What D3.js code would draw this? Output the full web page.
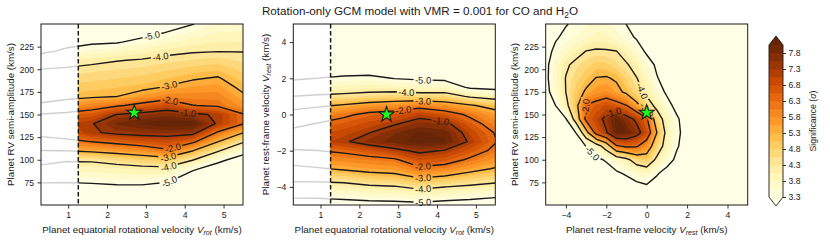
<!DOCTYPE html>
<html>
<head>
<meta charset="utf-8">
<script src="https://cdn.jsdelivr.net/npm/d3@7"></script>
<style>
  body { margin: 0; background: #ffffff; }
  svg { display: block; }
</style>
</head>
<body>
<svg id="chart" width="830" height="242"></svg>
<script>
// ---------------- DATA ----------------
// colour-fill levels (significance, sigma)
const sigmaLevels = [3.3, 3.55, 3.8, 4.05, 4.3, 4.55, 4.8, 5.05, 5.3, 5.55, 5.8, 6.05, 6.3, 6.55, 6.8, 7.05, 7.3, 7.55, 7.8, 8.05];
const colorbarTicks = [3.3, 3.8, 4.3, 4.8, 5.3, 5.8, 6.3, 6.8, 7.3, 7.8];
// contour lines drawn relative to the peak significance
const peakSigma = 8.3;
const contourOffsets = [-5, -4, -3, -2, -1];
const ylorbr = ["#ffffe5", "#fff7bc", "#fee391", "#fec44f", "#fe9929", "#ec7014", "#cc4c02", "#993404", "#662506"];
const vrotCut = 1.26;
const starVrot = 2.7, starVrest = 0, starKp = 152;

// grid coordinates
const vrotGrid = [0.3, 0.95, 1.6, 2.25, 2.9, 3.55, 4.2, 4.85, 5.5];
const kpGrid = [50, 60, 70, 80, 90, 100, 110, 120, 130, 140, 150, 160, 170, 180, 190, 200, 210, 220, 230, 240, 250];
const vrestGrid = [-5, -4.5, -4, -3.5, -3, -2.5, -2, -1.5, -1, -0.5, 0, 0.5, 1, 1.5, 2, 2.5, 3, 3.5, 4, 4.5, 5];
const vrestGridP3 = [-5, -4.5, -4, -3.5, -3, -2.5, -2, -1.5, -1, -0.5, 0, 0.5, 1, 1.5, 2, 2.5, 5];
const kpGridP3 = [50, 70, 85, 100, 115, 130, 145, 160, 175, 190, 205, 220, 235, 250];

// panel 1: significance, rows = Kp (kpGrid), columns = Vrot (vrotGrid)
const sigmaKpVrot = [
  [2.3, 2.3, 2.3, 2.3, 2.3, 2.2, 1.9, 1.7, 1.5],
  [2.7, 2.7, 2.7, 2.75, 2.75, 2.65, 2.25, 2.0, 1.8],
  [3.1, 3.1, 3.15, 3.2, 3.2, 3.05, 2.6, 2.3, 2.1],
  [3.55, 3.51, 3.54, 3.61, 3.65, 3.54, 2.95, 2.65, 2.4],
  [4.05, 3.93, 3.94, 4.0, 4.08, 4.12, 3.4, 2.98, 2.75],
  [4.63, 4.39, 4.41, 4.62, 4.83, 4.97, 4.35, 3.48, 3.0],
  [5.28, 5.31, 5.43, 5.6, 5.8, 6.17, 5.33, 4.39, 3.55],
  [5.99, 6.13, 6.31, 6.52, 6.73, 6.9, 6.46, 5.32, 4.39],
  [6.55, 6.68, 7.2, 7.46, 7.56, 7.59, 7.52, 6.21, 5.32],
  [6.88, 7.0, 7.25, 7.85, 8.1, 8.3, 8.25, 7.2, 6.35],
  [6.35, 6.49, 6.65, 7.32, 7.5, 7.69, 7.46, 7.2, 6.35],
  [5.4, 5.63, 5.97, 6.2, 6.54, 6.86, 6.32, 6.2, 5.7],
  [5.07, 5.13, 5.2, 5.29, 5.63, 5.97, 5.94, 5.95, 5.4],
  [4.81, 4.88, 4.96, 5.04, 5.14, 5.36, 5.59, 5.65, 5.15],
  [4.56, 4.63, 4.71, 4.79, 4.88, 5.04, 5.23, 5.36, 4.93],
  [4.31, 4.39, 4.47, 4.54, 4.62, 4.76, 4.9, 5.01, 4.71],
  [3.71, 3.95, 4.14, 4.27, 4.35, 4.47, 4.57, 4.66, 4.5],
  [3.15, 3.41, 3.62, 3.76, 3.94, 4.14, 4.24, 4.28, 4.28],
  [2.9, 3.1, 3.2, 3.25, 3.48, 3.74, 3.93, 4.06, 4.05],
  [2.7, 2.85, 2.95, 3.0, 3.1, 3.34, 3.61, 3.82, 3.85],
  [2.5, 2.6, 2.7, 2.75, 2.85, 3.05, 3.28, 3.58, 3.65]
];

// panel 2: rows = Vrest (vrestGrid), columns = Vrot (vrotGrid)
const sigmaVrestVrot = [
  [2.9, 2.9, 3.0, 3.05, 3.05, 3.1, 3.0, 3.0, 3.0],
  [3.43, 3.44, 3.5, 3.59, 3.65, 3.77, 3.63, 3.5, 3.37],
  [3.99, 3.97, 4.01, 4.16, 4.24, 4.47, 4.31, 4.17, 4.03],
  [4.54, 4.56, 4.65, 4.9, 4.99, 5.31, 5.13, 4.87, 4.65],
  [5.09, 5.23, 5.4, 5.55, 5.63, 6.13, 5.97, 5.55, 5.24],
  [5.65, 5.77, 5.9, 6.05, 6.19, 6.82, 6.66, 6.18, 5.69],
  [6.22, 6.29, 6.45, 6.72, 7.1, 7.46, 7.25, 6.7, 6.12],
  [6.79, 6.92, 7.2, 7.64, 7.92, 8.2, 8.1, 7.2, 6.35],
  [6.54, 6.73, 6.93, 7.28, 7.76, 8.1, 7.95, 7.0, 6.25],
  [6.07, 6.34, 6.58, 6.88, 7.21, 7.62, 7.49, 6.6, 5.94],
  [5.6, 5.79, 6.15, 6.48, 6.64, 7.06, 6.7, 6.15, 5.58],
  [5.04, 5.19, 5.38, 5.65, 5.8, 5.97, 5.7, 5.38, 5.04],
  [4.31, 4.4, 4.48, 4.6, 4.7, 4.67, 4.7, 4.2, 3.97],
  [3.75, 3.83, 3.9, 3.95, 3.93, 3.76, 3.75, 3.2, 3.1],
  [3.2, 3.31, 3.4, 3.45, 3.28, 3.2, 3.15, 2.9, 2.8],
  [2.8, 2.9, 3.0, 3.0, 2.95, 2.85, 2.8, 2.6, 2.5],
  [2.5, 2.6, 2.7, 2.7, 2.65, 2.55, 2.5, 2.35, 2.25],
  [2.2, 2.3, 2.4, 2.4, 2.35, 2.3, 2.25, 2.1, 2.0],
  [2.0, 2.05, 2.15, 2.15, 2.1, 2.05, 2.0, 1.9, 1.8],
  [1.8, 1.85, 1.9, 1.9, 1.85, 1.85, 1.8, 1.7, 1.6],
  [1.6, 1.65, 1.7, 1.7, 1.65, 1.65, 1.6, 1.5, 1.45]
];

// panel 3: rows = Kp (kpGridP3), columns = Vrest (vrestGridP3)
const sigmaKpVrest = [
  [2.1, 2.15, 2.2, 2.25, 2.3, 2.35, 2.4, 2.5, 2.55, 2.6, 2.6, 2.5, 2.4, 2.3, 2.25, 2.2, 2.0],
  [2.2, 2.3, 2.35, 2.45, 2.55, 2.65, 2.75, 2.85, 2.95, 3.1, 3.2, 3.0, 2.8, 2.65, 2.5, 2.4, 2.1],
  [2.3, 2.4, 2.45, 2.55, 2.7, 2.85, 3.0, 3.2, 3.38, 3.61, 3.77, 3.37, 3.05, 2.85, 2.7, 2.55, 2.15],
  [2.4, 2.5, 2.6, 2.75, 2.95, 3.15, 3.37, 3.73, 4.09, 4.7, 4.9, 4.14, 3.59, 3.15, 2.9, 2.7, 2.2],
  [2.5, 2.65, 2.85, 3.05, 3.31, 3.86, 4.7, 6.18, 6.44, 6.39, 5.8, 4.77, 3.96, 3.36, 3.0, 2.75, 2.2],
  [2.6, 2.8, 3.0, 3.31, 4.97, 6.61, 7.24, 8.1, 8.05, 7.58, 6.87, 5.31, 4.05, 3.43, 3.05, 2.8, 2.2],
  [2.75, 2.95, 3.26, 4.7, 6.5, 7.0, 7.5, 8.15, 7.61, 7.16, 6.44, 4.8, 3.89, 3.38, 3.0, 2.75, 2.2],
  [2.95, 3.31, 4.07, 5.08, 6.35, 6.6, 6.85, 6.63, 6.31, 5.53, 4.74, 4.05, 3.51, 3.1, 2.85, 2.65, 2.15],
  [3.1, 3.63, 4.31, 4.93, 5.41, 5.68, 5.84, 5.52, 5.14, 4.62, 4.1, 3.6, 3.2, 2.95, 2.75, 2.55, 2.1],
  [3.15, 3.74, 4.33, 4.68, 5.02, 5.33, 5.37, 5.21, 4.77, 4.33, 3.83, 3.34, 3.05, 2.85, 2.65, 2.5, 2.1],
  [3.15, 3.67, 4.2, 4.47, 4.69, 4.91, 4.86, 4.61, 4.37, 4.0, 3.58, 3.2, 2.95, 2.75, 2.6, 2.45, 2.05],
  [3.1, 3.43, 3.74, 4.05, 4.31, 4.37, 4.36, 4.31, 3.96, 3.59, 3.2, 2.95, 2.8, 2.65, 2.5, 2.4, 2.0],
  [3.05, 3.25, 3.42, 3.59, 3.76, 3.93, 3.88, 3.67, 3.46, 3.25, 3.05, 2.85, 2.7, 2.55, 2.45, 2.35, 2.0],
  [2.95, 3.1, 3.27, 3.4, 3.52, 3.65, 3.58, 3.46, 3.29, 3.1, 2.9, 2.75, 2.6, 2.5, 2.4, 2.3, 2.0]
];

// ---------------- LAYOUT ----------------
const W = 830, H = 242, TOP = 24, BOTTOM = 205;
const FONT = "'Liberation Sans', Arial, Helvetica, sans-serif";
const INK = "#1a1a1a";
const layout = {
  tickFont: 8.6, labelFont: 9.8, cbarLabelFont: 8.8, titleFont: 11.7, clabelFont: 9.4,
  lineWidth: 1.4, grayLine: "#cfcfcf"
};

const xLabelRot = [{t: "Planet equatorial rotational velocity "}, {t: "V", i: true}, {t: "rot", i: true, sub: true}, {t: " (km/s)"}];
const labelRest = [{t: "Planet rest-frame velocity "}, {t: "V", i: true}, {t: "rest", i: true, sub: true}, {t: " (km/s)"}];
const labelKp = [{t: "Planet RV semi-amplitude (km/s)"}];

const panels = [
  { key: "p1", left: 41, right: 243, xDomain: [0.3, 5.5], yDomain: [50, 250],
    xs: vrotGrid, ys: kpGrid, z: sigmaKpVrot, cut: true,
    xTicks: [1, 2, 3, 4, 5], yTicks: [75, 100, 125, 150, 175, 200, 225],
    xLabel: xLabelRot, yLabel: labelKp, yLabelX: 10, star: [starVrot, starKp],
    clabels: [[-5, 3.16, 236.7], [-4, 3.37, 215.4], [-3, 3.59, 184], [-2, 3.63, 166.7], [-1, 4.1, 157],
              [-2, 3.71, 111], [-3, 3.59, 100.5], [-4, 3.59, 91.3], [-5, 3.59, 77]] },
  { key: "p2", left: 293.3, right: 495.3, xDomain: [0.3, 5.5], yDomain: [-5, 5],
    xs: vrotGrid, ys: vrestGrid, z: sigmaVrestVrot, cut: true,
    xTicks: [1, 2, 3, 4, 5], yTicks: [-4, -2, 0, 2, 4],
    xLabel: xLabelRot, yLabel: labelRest, yLabelX: 265, star: [starVrot, starVrest],
    clabels: [[-5, 3.64, 1.75], [-4, 3.21, 1.2], [-3, 3.64, 0.78], [-2, 3.13, 0.34], [-1, 4.11, -0.21],
              [-2, 3.64, -2.96], [-3, 3.64, -3.5], [-4, 3.64, -4.1], [-5, 3.64, -4.78]] },
  { key: "p3", left: 545.7, right: 747.7, xDomain: [-5, 5], yDomain: [50, 250],
    xs: vrestGridP3, ys: kpGridP3, z: sigmaKpVrest, cut: false,
    xTicks: [-4, -2, 0, 2, 4], yTicks: [75, 100, 125, 150, 175, 200, 225],
    xLabel: labelRest, yLabel: labelKp, yLabelX: 513.5, star: [starVrest, starKp],
    clabels: [[-4, -0.14, 176.7], [-3, 0.12, 157], [-2, -2.95, 158.3], [-1, -1.7, 155.7], [-5, -2.62, 108.6]] }
];

// ---------------- DRAW ----------------
const svg = d3.select("#chart").attr("font-family", FONT);
const defs = svg.append("defs");
const cmap = d3.scaleLinear().domain(ylorbr.map((_, i) => i / (ylorbr.length - 1))).range(ylorbr);
const nBands = sigmaLevels.length - 1;
const bandColor = i => cmap((i + 0.5) / nBands);
const underColor = cmap(0), overColor = cmap(1);

function richText(sel, parts, size) {
  parts.forEach(pt => {
    const ts = sel.append("tspan").text(pt.t);
    if (pt.i) ts.attr("font-style", "italic");
    if (pt.sub) ts.attr("font-size", size * 0.72).attr("dy", size * 0.28);
    else if (pt._after) ts.attr("dy", -size * 0.28);
  });
}
function withReset(parts) {
  return parts.map((p, k) => Object.assign({}, p, { _after: k > 0 && parts[k - 1].sub && !p.sub }));
}

function splitRing(ring, nx, ny) {
  const onB = q => q[0] <= 0 || q[0] >= nx || q[1] <= 0 || q[1] >= ny;
  const n = ring.length - 1;
  const pts = ring.slice(0, n);
  const s = pts.findIndex(onB);
  if (s < 0) return [ring];
  const out = [];
  let cur = [];
  for (let k = 1; k <= n; k++) {
    const q = pts[(s + k) % n];
    if (onB(q)) { if (cur.length > 1) out.push(cur); cur = []; }
    else cur.push(q);
  }
  if (cur.length > 1) out.push(cur);
  return out;
}

function drawPanel(p) {
  const x = d3.scaleLinear().domain(p.xDomain).range([p.left, p.right]);
  const y = d3.scaleLinear().domain(p.yDomain).range([BOTTOM, TOP]);
  const nx = p.xs.length, ny = p.ys.length;
  const values = p.z.flat();
  const ix = d3.scaleLinear().domain(d3.range(nx)).range(p.xs).clamp(true);
  const iy = d3.scaleLinear().domain(d3.range(ny)).range(p.ys).clamp(true);
  const proj = q => [x(ix(q[0] - 0.5)), y(iy(q[1] - 0.5))];
  const gen = d3.contours().size([nx, ny]);
  const g = svg.append("g");
  const xc = p.cut ? x(vrotCut) : p.left;

  defs.append("clipPath").attr("id", "right-" + p.key).append("rect")
    .attr("x", xc).attr("y", TOP).attr("width", p.right - xc).attr("height", BOTTOM - TOP);
  defs.append("clipPath").attr("id", "left-" + p.key).append("rect")
    .attr("x", p.left).attr("y", TOP).attr("width", Math.max(0, xc - p.left)).attr("height", BOTTOM - TOP);

  g.append("rect").attr("x", p.left).attr("y", TOP).attr("width", p.right - p.left)
    .attr("height", BOTTOM - TOP).attr("fill", "#ffffff");

  // filled contours
  const fills = g.append("g").attr("clip-path", `url(#right-${p.key})`);
  fills.append("rect").attr("x", p.left).attr("y", TOP).attr("width", p.right - p.left)
    .attr("height", BOTTOM - TOP).attr("fill", underColor);
  sigmaLevels.forEach((lv, i) => {
    const mp = gen.contour(values, lv);
    const d = mp.coordinates.map(poly => poly.map(r => "M" + r.map(proj).map(c => c[0].toFixed(2) + "," + c[1].toFixed(2)).join("L") + "Z").join("")).join("");
    if (d) fills.append("path").attr("d", d).attr("fill", i < nBands ? bandColor(i) : overColor).attr("fill-rule", "evenodd");
  });

  // contour lines
  const lineSets = contourOffsets.map(off => {
    const mp = gen.contour(values, peakSigma + off);
    const lines = [];
    mp.coordinates.forEach(poly => poly.forEach(r => splitRing(r, nx, ny).forEach(l => lines.push(l.map(proj)))));
    return { off, lines };
  });

  // inline labels
  const labG = g.append("g").attr("font-size", layout.clabelFont).attr("fill", INK);
  const maskId = "mask-" + p.key;
  const mask = defs.append("mask").attr("id", maskId).attr("maskUnits", "userSpaceOnUse")
    .attr("x", 0).attr("y", 0).attr("width", W).attr("height", H);
  mask.append("rect").attr("x", 0).attr("y", 0).attr("width", W).attr("height", H).attr("fill", "#fff");
  p.clabels.forEach(([off, dx, dy]) => {
    const set = lineSets.find(s => s.off === off);
    const tx = x(dx), ty = y(dy);
    let best = null;
    set.lines.forEach(l => {
      for (let k = 0; k < l.length - 1; k++) {
        const a = l[k], b = l[k + 1];
        const vx = b[0] - a[0], vy = b[1] - a[1];
        const L2 = vx * vx + vy * vy || 1e-9;
        let t = ((tx - a[0]) * vx + (ty - a[1]) * vy) / L2;
        t = Math.max(0, Math.min(1, t));
        const px = a[0] + t * vx, py = a[1] + t * vy;
        const dd = Math.hypot(px - tx, py - ty);
        if (!best || dd < best.dd) best = { dd, px, py, ang: Math.atan2(vy, vx) * 180 / Math.PI };
      }
    });
    if (!best || best.dd > 14) return;
    let ang = best.ang;
    if (ang > 90) ang -= 180;
    if (ang < -90) ang += 180;
    const txt = labG.append("text").attr("text-anchor", "middle").attr("dominant-baseline", "central")
      .attr("transform", `translate(${best.px},${best.py}) rotate(${ang})`)
      .text(off.toFixed(1));
    const w = txt.node().getComputedTextLength() + 3;
    mask.append("rect").attr("x", -w / 2).attr("y", -layout.clabelFont * 0.55)
      .attr("width", w).attr("height", layout.clabelFont * 1.1)
      .attr("transform", `translate(${best.px},${best.py}) rotate(${ang})`).attr("fill", "#000");
  });

  const lineGen = d3.line();
  const drawLines = (clip, color) => {
    const lg = g.insert("g", () => labG.node()).attr("clip-path", `url(#${clip}-${p.key})`)
      .append("g").attr("mask", `url(#${maskId})`);
    lineSets.forEach(s => s.lines.forEach(l => {
      lg.append("path").attr("d", lineGen(l)).attr("fill", "none").attr("stroke", color)
        .attr("stroke-width", layout.lineWidth).attr("stroke-linejoin", "round");
    }));
  };
  drawLines("right", INK);
  if (p.cut) drawLines("left", layout.grayLine);

  if (p.cut) {
    g.append("line").attr("x1", xc).attr("x2", xc).attr("y1", TOP).attr("y2", BOTTOM)
      .attr("stroke", INK).attr("stroke-width", 1.5).attr("stroke-dasharray", "4.5,2.5");
  }

  // star marker
  g.append("path").attr("d", d3.symbol(d3.symbolStar, 72)())
    .attr("transform", `translate(${x(p.star[0])},${y(p.star[1])})`)
    .attr("fill", "#1cff1c").attr("stroke", INK).attr("stroke-width", 1.1).attr("stroke-linejoin", "miter");

  // frame
  g.append("rect").attr("x", p.left).attr("y", TOP).attr("width", p.right - p.left).attr("height", BOTTOM - TOP)
    .attr("fill", "none").attr("stroke", INK).attr("stroke-width", 1);

  // axes
  const fmt = d3.format("");
  const xa = g.append("g").attr("transform", `translate(0,${BOTTOM})`)
    .call(d3.axisBottom(x).tickValues(p.xTicks).tickSize(3.5).tickPadding(3).tickFormat(fmt));
  const ya = g.append("g").attr("transform", `translate(${p.left},0)`)
    .call(d3.axisLeft(y).tickValues(p.yTicks).tickSize(3.5).tickPadding(3.5).tickFormat(fmt));
  [xa, ya].forEach(a => {
    a.attr("font-family", FONT).attr("font-size", layout.tickFont);
    a.select(".domain").remove();
    a.selectAll("line").attr("stroke", INK).attr("stroke-width", 0.9);
    a.selectAll("text").attr("fill", INK);
  });

  // axis titles
  const xt = g.append("text").attr("x", (p.left + p.right) / 2).attr("y", 232.5).attr("text-anchor", "middle")
    .attr("font-size", layout.labelFont).attr("fill", INK);
  richText(xt, withReset(p.xLabel), layout.labelFont);
  const yt = g.append("text").attr("transform", `translate(${p.yLabelX},${(TOP + BOTTOM) / 2}) rotate(-90)`)
    .attr("text-anchor", "middle").attr("dominant-baseline", "central")
    .attr("font-size", layout.labelFont).attr("fill", INK);
  richText(yt, withReset(p.yLabel), layout.labelFont);
}

panels.forEach(drawPanel);

// title
const title = svg.append("text").attr("x", 420).attr("y", 14.5).attr("text-anchor", "middle")
  .attr("font-size", layout.titleFont).attr("fill", INK);
richText(title, withReset([{ t: "Rotation-only GCM model with VMR = 0.001 for CO and H" }, { t: "2", sub: true }, { t: "O" }]), layout.titleFont);

// colorbar
const cb = { x: 769, w: 14, top: 45, bottom: 197, tri: 9 };
const cy = d3.scaleLinear().domain([sigmaLevels[0], sigmaLevels[nBands]]).range([cb.bottom, cb.top]);
const cg = svg.append("g");
d3.range(nBands).forEach(i => {
  cg.append("rect").attr("x", cb.x).attr("width", cb.w)
    .attr("y", cy(sigmaLevels[i + 1])).attr("height", cy(sigmaLevels[i]) - cy(sigmaLevels[i + 1]) + 0.3)
    .attr("fill", bandColor(i));
});
cg.append("path").attr("d", `M${cb.x},${cb.top}L${cb.x + cb.w / 2},${cb.top - cb.tri}L${cb.x + cb.w},${cb.top}Z`).attr("fill", overColor);
cg.append("path").attr("d", `M${cb.x},${cb.bottom}L${cb.x + cb.w / 2},${cb.bottom + cb.tri}L${cb.x + cb.w},${cb.bottom}Z`).attr("fill", underColor);
cg.append("path").attr("d",
  `M${cb.x},${cb.top}L${cb.x + cb.w / 2},${cb.top - cb.tri}L${cb.x + cb.w},${cb.top}L${cb.x + cb.w},${cb.bottom}L${cb.x + cb.w / 2},${cb.bottom + cb.tri}L${cb.x},${cb.bottom}Z`)
  .attr("fill", "none").attr("stroke", INK).attr("stroke-width", 0.9);
const ca = cg.append("g").attr("transform", `translate(${cb.x + cb.w},0)`)
  .call(d3.axisRight(cy).tickValues(colorbarTicks).tickSize(3).tickPadding(2.5).tickFormat(d3.format(".1f")));
ca.attr("font-family", FONT).attr("font-size", layout.tickFont);
ca.select(".domain").remove();
ca.selectAll("line").attr("stroke", INK).attr("stroke-width", 0.9);
ca.selectAll("text").attr("fill", INK);
const cl = cg.append("text").attr("transform", `translate(813,121) rotate(-90)`).attr("text-anchor", "middle")
  .attr("dominant-baseline", "central").attr("font-size", layout.cbarLabelFont).attr("fill", INK);
richText(cl, [{ t: "Significance (" }, { t: "σ", i: true }, { t: ")" }], layout.cbarLabelFont);
</script>
</body>
</html>
